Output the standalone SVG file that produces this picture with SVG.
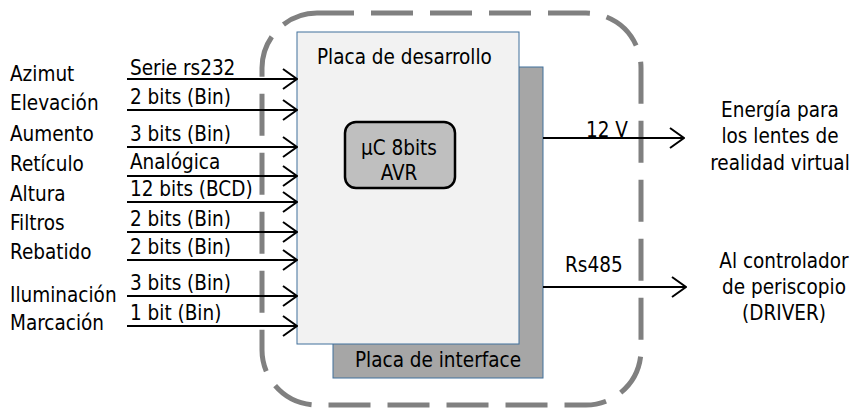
<svg xmlns="http://www.w3.org/2000/svg" width="854" height="408" viewBox="0 0 854 408">
  <defs>
    <marker id="open" viewBox="0 0 16 22" refX="15" refY="11" markerWidth="16" markerHeight="22" markerUnits="userSpaceOnUse" orient="auto">
      <path d="M1,1 L15,11 L1,21" fill="none" stroke="#000" stroke-width="2"/>
    </marker>
  </defs>
  <style>
    text { font-family: "DejaVu Sans Condensed", "DejaVu Sans", Verdana, sans-serif; font-stretch: condensed; font-size: 20.5px; fill: #000; }
    .sig { stroke: #000; stroke-width: 2; fill: none; marker-end: url(#open); }
    .mid { text-anchor: middle; }
  </style>
  <rect width="854" height="408" fill="#fff"/>

  <!-- boards -->
  <g id="placa-interface">
    <rect x="333" y="67" width="210" height="311" fill="#a6a6a6" stroke="#41719c" stroke-width="1"/>
    <text x="438" y="367" class="mid">Placa de interface</text>
  </g>
  <g id="placa-desarrollo">
    <rect x="297" y="32" width="222" height="312" fill="#f2f2f2" stroke="#41719c" stroke-width="1"/>
    <text x="317" y="64">Placa de desarrollo</text>
  </g>
  <g id="uc">
    <rect x="345" y="122" width="110" height="66" rx="11" fill="#bfbfbf" stroke="#000" stroke-width="2.5"/>
    <text x="399" y="155" class="mid">µC 8bits</text>
    <text x="399" y="180" class="mid">AVR</text>
  </g>

  <!-- enclosure -->
  <g id="frontera">
    <rect x="262" y="13" width="379" height="392" rx="55" fill="none" stroke="#808080" stroke-width="5" stroke-dasharray="42 17" stroke-dashoffset="5"/>
  </g>

  <!-- input labels -->
  <g id="entradas">
    <text x="10" y="81">Azimut</text>
    <text x="10" y="110">Elevación</text>
    <text x="10" y="141">Aumento</text>
    <text x="10" y="171">Retículo</text>
    <text x="10" y="201">Altura</text>
    <text x="10" y="230">Filtros</text>
    <text x="10" y="259">Rebatido</text>
    <text x="10" y="302">Iluminación</text>
    <text x="10" y="330">Marcación</text>
  </g>

  <!-- outputs -->
  <g id="salida-energia">
    <text x="780" y="117" class="mid">Energía para</text>
    <text x="780" y="143" class="mid">los lentes de</text>
    <text x="780" y="170" class="mid">realidad virtual</text>
  </g>
  <g id="salida-driver">
    <text x="784" y="268" class="mid">Al controlador</text>
    <text x="784" y="294" class="mid">de periscopio</text>
    <text x="784" y="320" class="mid">(DRIVER)</text>
  </g>

  <!-- connectors -->
  <g id="conectores">
    <path class="sig" d="M127,79 H297"/>
    <path class="sig" d="M127,110 H297"/>
    <path class="sig" d="M127,147 H297"/>
    <path class="sig" d="M127,176 H297"/>
    <path class="sig" d="M127,202 H297"/>
    <path class="sig" d="M127,232 H297"/>
    <path class="sig" d="M127,260 H297"/>
    <path class="sig" d="M127,296 H297"/>
    <path class="sig" d="M127,326 H297"/>
    <path class="sig" d="M543,138 H684"/>
    <path class="sig" d="M543,287 H686"/>
  </g>
  <g id="etiquetas">
    <text x="130" y="75">Serie rs232</text>
    <text x="130" y="104">2 bits (Bin)</text>
    <text x="130" y="141">3 bits (Bin)</text>
    <text x="130" y="169">Analógica</text>
    <text x="130" y="196">12 bits (BCD)</text>
    <text x="130" y="226">2 bits (Bin)</text>
    <text x="130" y="254">2 bits (Bin)</text>
    <text x="130" y="290">3 bits (Bin)</text>
    <text x="130" y="320">1 bit (Bin)</text>
    <text x="586" y="137">12 V</text>
    <text x="565" y="272">Rs485</text>
  </g>
</svg>
